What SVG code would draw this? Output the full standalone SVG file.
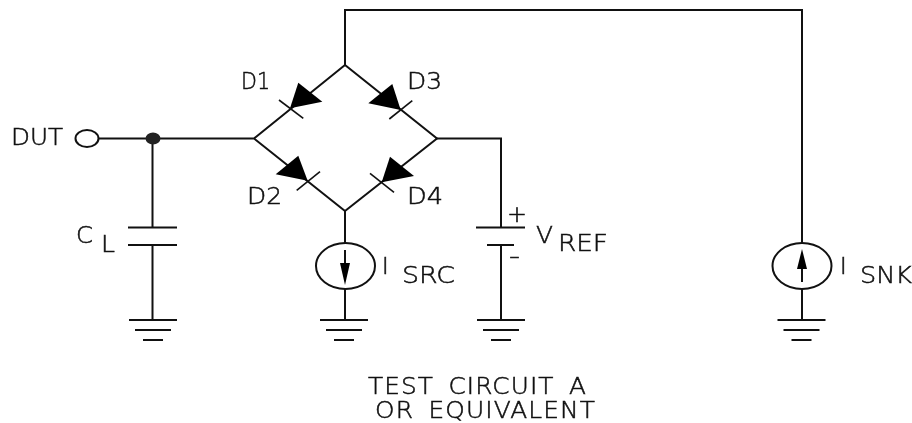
<svg xmlns="http://www.w3.org/2000/svg" width="912" height="423" viewBox="0 0 912 423">
<style>
.w{fill:none;stroke:#111;stroke-width:2}
.p{fill:#fff;stroke:#111;stroke-width:2}
.k{fill:#000;stroke:none}
.b{fill:none;stroke:#111;stroke-width:1.6}
text{font-family:"DejaVu Sans","Liberation Sans",sans-serif;font-weight:200;font-size:22.500px;fill:#111;stroke:#111;stroke-width:.5;filter:grayscale(1)}
</style>
<defs>
<g id="gnd"><path class="w" d="M-24 0H24M-18 10H18M-10 20H10"/></g>
</defs>
<rect width="912" height="423" fill="#fff"/>
<g id="connectors">
<path class="w" d="M98 138.500H254L345 65L437 138.500L345 211L254 138.500"/>
<path class="w" d="M345 65V10H802V243"/>
<path class="w" d="M802 289V320"/>
<path class="w" d="M152.500 138.500V227.500M152.500 245V320"/>
<path class="w" d="M437 138.500H501V227.500M501 245V320"/>
<path class="w" d="M345 211V243M345 289V320"/>
</g>
<g id="dut"><ellipse class="p" cx="87" cy="138.500" rx="11.500" ry="8.500"/><text x="11" y="145" textLength="52" lengthAdjust="spacingAndGlyphs">DUT</text></g>
<g id="junction"><ellipse cx="153" cy="138.500" rx="7.500" ry="6" fill="#222"/></g>
<g id="cl"><path class="w" d="M128 227.500H177M128 245H177"/><text x="76" y="243" textLength="17" lengthAdjust="spacingAndGlyphs">C</text><text x="101" y="252" textLength="14" lengthAdjust="spacingAndGlyphs">L</text><use href="#gnd" x="153" y="320"/></g>
<g id="d1"><polygon class="k" points="298.300,82.700 322.300,101.700 290,108.300"/><path class="b" d="M279 100L303.300 118.300"/><text x="241" y="89" textLength="29" lengthAdjust="spacingAndGlyphs">D1</text></g>
<g id="d3"><polygon class="k" points="392.300,84 368.300,103.300 400.700,110"/><path class="b" d="M412.300 100.700L389.300 119"/><text x="407" y="89" textLength="35" lengthAdjust="spacingAndGlyphs">D3</text></g>
<g id="d2"><polygon class="k" points="298.300,155.700 275.700,174.300 307.700,180.700"/><path class="b" d="M320 171.700L296.700 190.300"/><text x="247" y="204" textLength="35" lengthAdjust="spacingAndGlyphs">D2</text></g>
<g id="d4"><polygon class="k" points="390,156.700 414,176 381.700,182.300"/><path class="b" d="M370 173.300L394 192.300"/><text x="407" y="204" textLength="36" lengthAdjust="spacingAndGlyphs">D4</text></g>
<g id="isrc"><ellipse class="p" cx="345.500" cy="266" rx="29.500" ry="23"/><path class="w" d="M345 250V270"/><polygon class="k" points="340,263 350,263 345,285"/><text x="382" y="274">I</text><text x="402" y="283" textLength="53" lengthAdjust="spacingAndGlyphs">SRC</text><use href="#gnd" x="344" y="320"/></g>
<g id="vref"><path class="w" d="M476 227.500H525M487 245H514"/><text x="507" y="222" textLength="20" lengthAdjust="spacingAndGlyphs">+</text><text x="509" y="264" textLength="11" lengthAdjust="spacingAndGlyphs">-</text><text x="536" y="243" textLength="17" lengthAdjust="spacingAndGlyphs">V</text><text x="558" y="251" textLength="50" lengthAdjust="spacingAndGlyphs">REF</text><use href="#gnd" x="501" y="320"/></g>
<g id="isnk"><ellipse class="p" cx="802" cy="266" rx="29.500" ry="23"/><path class="w" d="M802 282V262"/><polygon class="k" points="797,269 807,269 802,249"/><text x="840" y="274">I</text><text x="860" y="283" textLength="52" lengthAdjust="spacingAndGlyphs">SNK</text><use href="#gnd" x="801.500" y="320"/></g>
<g id="caption"><text x="368" y="393.500" textLength="219" lengthAdjust="spacingAndGlyphs" letter-spacing="1" word-spacing="5">TEST CIRCUIT A</text><text x="375" y="417.500" textLength="221" lengthAdjust="spacingAndGlyphs" letter-spacing="1" word-spacing="5">OR EQUIVALENT</text></g>
</svg>
